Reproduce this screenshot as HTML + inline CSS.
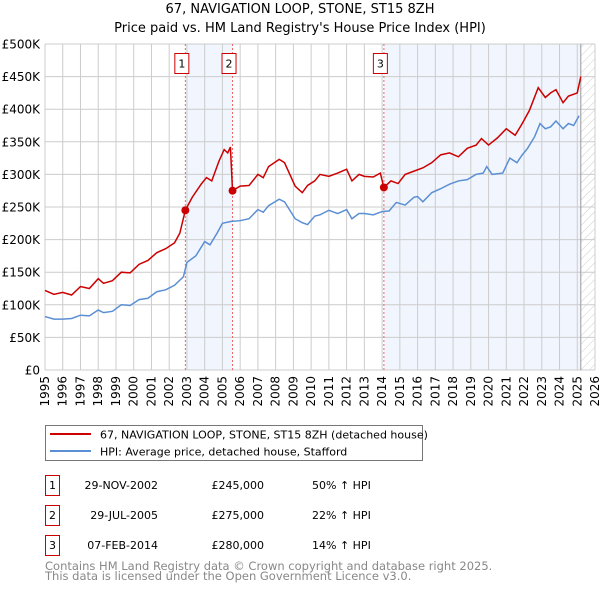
<!DOCTYPE html>
<html><head><meta charset="utf-8"><style>
body{margin:0;background:#fff;width:600px;height:590px;overflow:hidden;font-family:"DejaVu Sans","Liberation Sans",sans-serif;}
svg{position:absolute;left:0;top:0}
</style></head><body>
<svg id="c" width="600" height="590" xmlns="http://www.w3.org/2000/svg" font-family="DejaVu Sans, Liberation Sans, sans-serif">
<defs><pattern id="hatch" width="6" height="6" patternUnits="userSpaceOnUse" patternTransform="rotate(45)"><line x1="0" y1="0" x2="0" y2="6" stroke="#ccc" stroke-width="1"/></pattern></defs>
<text x="300" y="13" text-anchor="middle" font-size="13">67, NAVIGATION LOOP, STONE, ST15 8ZH</text>
<text x="300" y="32" text-anchor="middle" font-size="13">Price paid vs. HM Land Registry's House Price Index (HPI)</text>
<g id="plot"></g>
<g>
<rect x="45.5" y="425.5" width="377" height="35" fill="#fff" stroke="#777"/>
<line x1="50" y1="434" x2="91" y2="434" stroke="#cc0000" stroke-width="2"/>
<text x="100" y="438.5" font-size="11">67, NAVIGATION LOOP, STONE, ST15 8ZH (detached house)</text>
<line x1="50" y1="451" x2="91" y2="451" stroke="#5b8fd4" stroke-width="2"/>
<text x="100" y="455.5" font-size="11">HPI: Average price, detached house, Stafford</text>
</g>
<g font-size="11">
<rect x="45.5" y="475.5" width="14" height="20" fill="#fff" stroke="#cc0000"/><text x="52.5" y="489" text-anchor="middle">1</text>
<text x="158" y="489" text-anchor="end">29-NOV-2002</text><text x="264" y="489" text-anchor="end">£245,000</text><text x="312" y="489">50% ↑ HPI</text>
<rect x="45.5" y="505.5" width="14" height="20" fill="#fff" stroke="#cc0000"/><text x="52.5" y="519" text-anchor="middle">2</text>
<text x="158" y="519" text-anchor="end">29-JUL-2005</text><text x="264" y="519" text-anchor="end">£275,000</text><text x="312" y="519">22% ↑ HPI</text>
<rect x="45.5" y="535.5" width="14" height="20" fill="#fff" stroke="#cc0000"/><text x="52.5" y="549" text-anchor="middle">3</text>
<text x="158" y="549" text-anchor="end">07-FEB-2014</text><text x="264" y="549" text-anchor="end">£280,000</text><text x="312" y="549">14% ↑ HPI</text>
</g>
<text x="45" y="570" font-size="11.5" fill="#888">Contains HM Land Registry data © Crown copyright and database right 2025.</text>
<text x="45" y="580" font-size="11.5" fill="#888">This data is licensed under the Open Government Licence v3.0.</text>
</svg>
<script>
const yearTicks=[1995,1996,1997,1998,1999,2000,2001,2002,2003,2004,2005,2006,2007,2008,2009,2010,2011,2012,2013,2014,2015,2016,2017,2018,2019,2020,2021,2022,2023,2024,2025,2026];
const valueTicks=[0,50,100,150,200,250,300,350,400,450,500];
const valueLabels=["£0","£50K","£100K","£150K","£200K","£250K","£300K","£350K","£400K","£450K","£500K"];
const hpiDates=[1995,1995.5,1996,1996.5,1997,1997.5,1998,1998.3,1998.8,1999.3,1999.8,2000.3,2000.8,2001.3,2001.8,2002.3,2002.8,2003,2003.5,2004,2004.3,2004.7,2005,2005.5,2006,2006.5,2007,2007.3,2007.6,2008.2,2008.5,2008.8,2009.1,2009.5,2009.8,2010.2,2010.5,2011,2011.5,2012,2012.3,2012.7,2013,2013.5,2014,2014.4,2014.8,2015.3,2015.8,2016,2016.3,2016.8,2017.3,2017.8,2018.3,2018.8,2019.3,2019.7,2019.9,2020.2,2020.8,2021.2,2021.6,2021.9,2022.2,2022.6,2022.9,2023.2,2023.5,2023.8,2024.2,2024.5,2024.8,2025.1];
const hpiValues=[82,78,78,79,84,83,92,88,90,100,99,108,110,120,123,130,143,165,175,197,192,210,225,228,229,232,246,242,252,262,258,245,232,226,223,236,238,245,240,246,232,240,240,238,243,244,257,253,265,266,258,272,278,285,290,292,300,302,312,300,302,325,318,330,340,358,378,370,373,382,370,378,375,390];
const priceDates=[1995,1995.5,1996,1996.5,1997,1997.5,1998,1998.3,1998.8,1999.3,1999.8,2000.3,2000.8,2001.3,2001.8,2002.3,2002.6,2002.91,2003.3,2003.8,2004.1,2004.4,2004.8,2005.1,2005.3,2005.45,2005.57,2006,2006.5,2007,2007.3,2007.6,2008.2,2008.5,2008.8,2009.1,2009.5,2009.8,2010.2,2010.5,2011,2011.5,2012,2012.3,2012.7,2013,2013.5,2013.9,2014.1,2014.5,2014.9,2015.3,2015.8,2016.3,2016.8,2017.3,2017.8,2018.3,2018.8,2019.3,2019.6,2020,2020.5,2021,2021.5,2021.9,2022.3,2022.8,2023.2,2023.5,2023.8,2024.2,2024.5,2025.0,2025.2];
const priceValues=[122,116,119,115,128,125,140,133,137,150,149,162,168,180,186,195,210,245,265,285,295,290,320,338,333,342,275,282,283,300,295,312,323,318,300,282,272,283,290,300,297,302,308,290,300,297,296,302,280,290,286,300,305,310,318,330,333,327,340,345,355,345,356,370,360,378,398,433,418,425,430,410,420,425,450];
const saleDates=[2002.91,2005.57,2014.1];
const saleValues=[245,275,280];
const saleLabels=["1","2","3"];
const X0=45,X1=595,Y0=370,Y1=44;
const xs=y=>X0+(y-1995)/(2026-1995)*(X1-X0);
const ys=v=>Y0-v/500*(Y0-Y1);
const NS="http://www.w3.org/2000/svg";
const g=document.getElementById('plot');
function mk(t,a,p){const e=document.createElementNS(NS,t);for(const k in a)e.setAttribute(k,a[k]);(p||g).appendChild(e);return e;}
let s=mk('rect',{x:xs(saleDates[0]),y:Y1,width:xs(saleDates[1])-xs(saleDates[0]),height:Y0-Y1,fill:'#eef3fc',opacity:0.8});


s=mk('rect',{x:xs(saleDates[2]),y:Y1,width:xs(2025.2)-xs(saleDates[2]),height:Y0-Y1,fill:'#eef3fc',opacity:0.8});


s=mk('rect',{x:xs(2025.2),y:Y1,width:X1-xs(2025.2),height:Y0-Y1,fill:'url(#hatch)'});


yearTicks.forEach(yr=>{
 const l=mk('line',{x1:xs(yr),x2:xs(yr),y1:Y1,y2:Y0,stroke:'#ccc','stroke-width':1});
 
 
 const t=mk('text',{x:0,y:0,'font-size':12,'text-anchor':'end',transform:`translate(${xs(yr)+4},${Y0+6}) rotate(-90)`});
 t.textContent=yr;
 
 
});
valueTicks.forEach((v,i)=>{
 const l=mk('line',{x1:X0,x2:X1,y1:ys(v),y2:ys(v),stroke:'#ccc','stroke-width':1});
 
 
 const t=mk('text',{x:X0-5,y:ys(v)+4.5,'font-size':12,'text-anchor':'end'});
 t.textContent=valueLabels[i];
 
 
});
const cl=mk('line',{x1:xs(2025.2),x2:xs(2025.2),y1:Y1,y2:Y0,stroke:'#999','stroke-width':1});


saleDates.forEach((d,i)=>{
 const l=mk('line',{x1:xs(d),x2:xs(d),y1:Y1,y2:Y0,stroke:'#e66','stroke-width':1,'stroke-dasharray':'2,2'});
 
 
 const r=mk('rect',{x:xs(d)-10.5,y:53.5,width:14,height:20,fill:'#fff',stroke:'#cc0000'});
 
 
 const t=mk('text',{x:xs(d)-3.5,y:67.5,'font-size':11,'text-anchor':'middle'});
 t.textContent=saleLabels[i];
 
 
});
const hp=mk('polyline',{points:hpiDates.map((d,i)=>xs(d)+','+ys(hpiValues[i])).join(' '),fill:'none',stroke:'#5b8fd4','stroke-width':1.5});


const pp=mk('polyline',{points:priceDates.map((d,i)=>xs(d)+','+ys(priceValues[i])).join(' '),fill:'none',stroke:'#cc0000','stroke-width':1.5});


saleDates.forEach((d,i)=>{
 const c=mk('circle',{cx:xs(d),cy:ys(saleValues[i]),r:4,fill:'#cc0000'});
 
 
});
</script>
</body></html>
